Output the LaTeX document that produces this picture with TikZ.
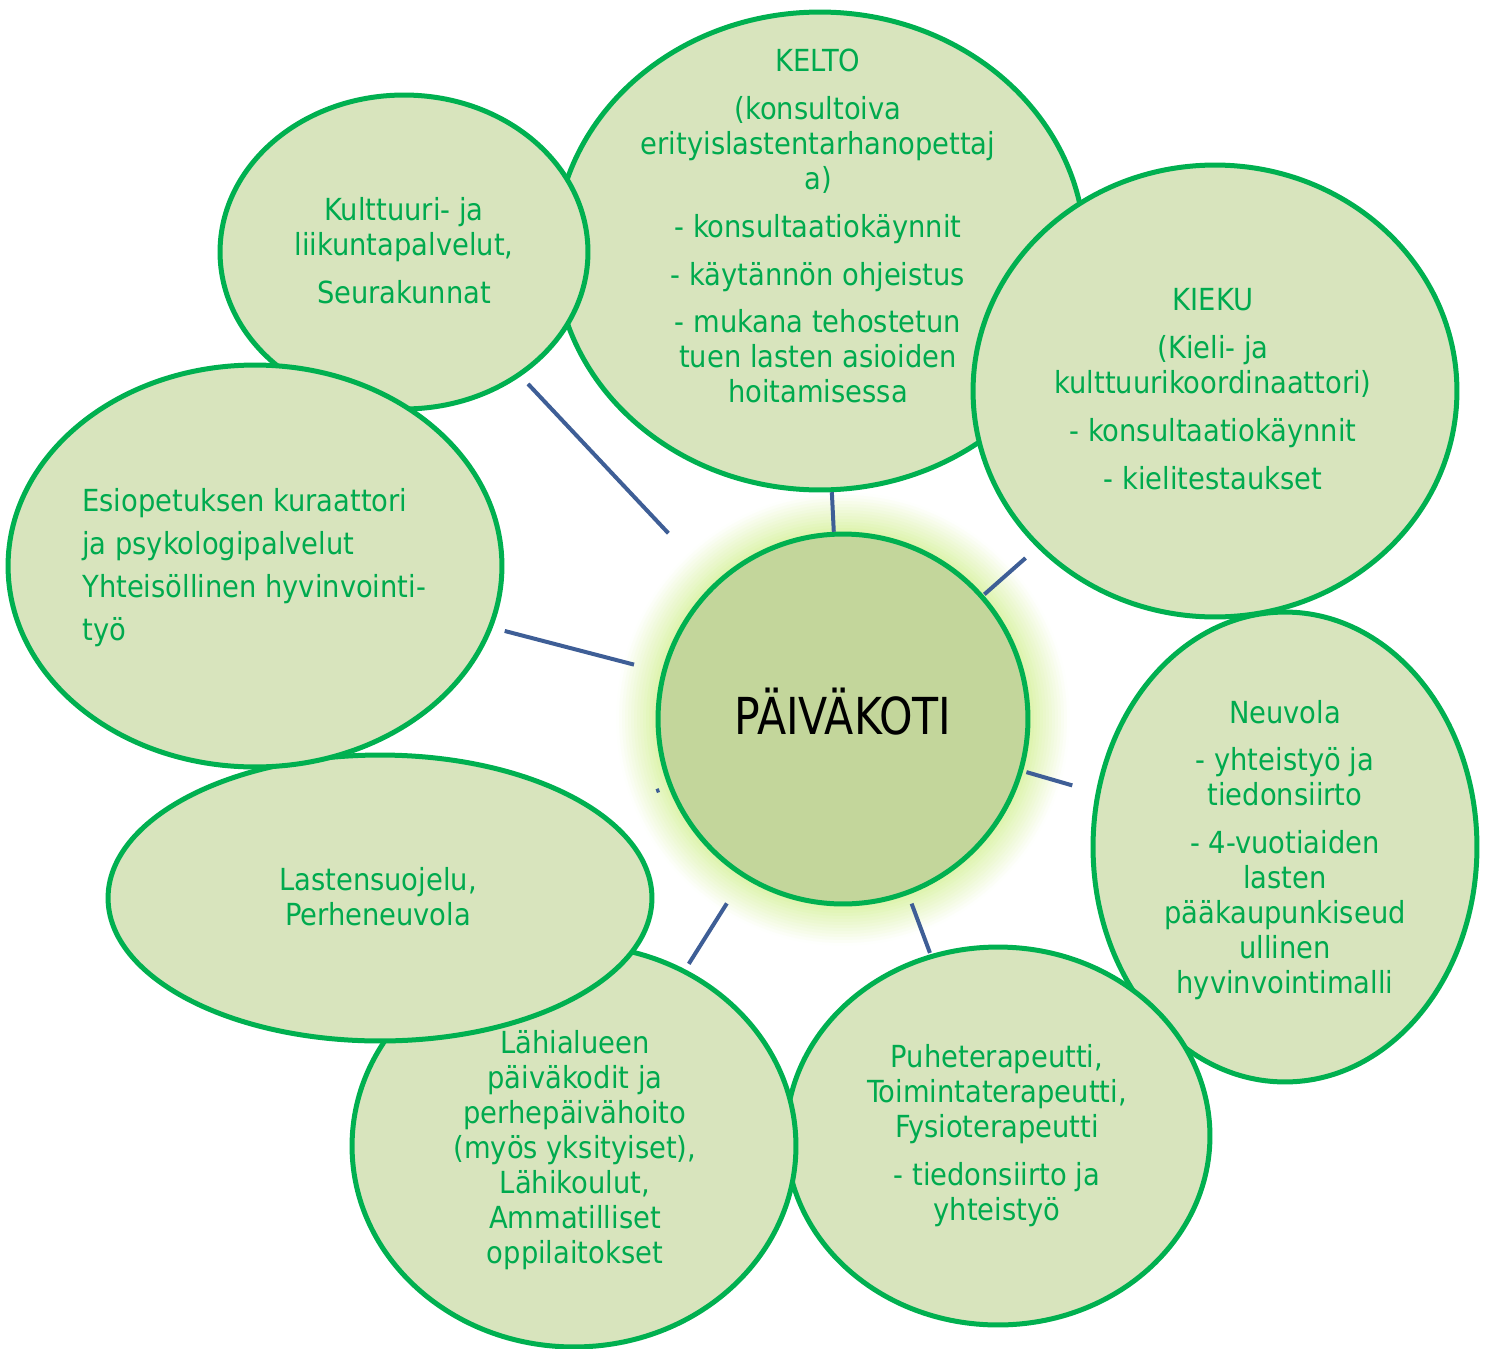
\documentclass[tikz,border=0pt]{standalone}
\usepackage{fontspec}
\setmainfont{DejaVu Sans Condensed}
\usepackage{tikz}
\usetikzlibrary{shapes.geometric, calc}

\definecolor{rimgreen}{RGB}{0,176,80}
\definecolor{textgreen}{RGB}{0,170,78}
\definecolor{bubblefill}{RGB}{216,228,189}
\definecolor{hubfill}{RGB}{195,214,155}
\definecolor{glowgreen}{RGB}{218,242,165}
\definecolor{linkblue}{RGB}{62,94,150}

\begin{document}
\begin{tikzpicture}[x=0.02cm, y=-0.02cm]
% Styles
\tikzstyle{bubble} = [ellipse, draw=rimgreen, line width=0.1cm, fill=bubblefill, inner sep=0pt]
\tikzstyle{hubnode} = [circle, draw=rimgreen, line width=0.1cm, fill=hubfill, minimum size=7.4cm, inner sep=0pt]
\tikzstyle{bubbletext} = [text=textgreen, align=center, inner sep=0pt, font=\fontsize{17.3}{19.9}\selectfont]
\tikzstyle{link} = [draw=linkblue, line width=0.08cm]

\useasboundingbox (0,0) rectangle (1485,1349);

% Glow round the centre
\coordinate (hubc) at (843,719);
\foreach \i in {14,13,...,1}{
  \pgfmathtruncatemacro\pct{100-7*\i}
  \fill[glowgreen!\pct!white] (hubc) circle ({3.7cm+\i*0.06cm});
}

% Nodes
\node (kelto) [bubble, minimum width=10.6cm, minimum height=9.56cm] at (820,251) {};
\node (kieku) [bubble, minimum width=9.68cm, minimum height=9.04cm] at (1215,391) {};
\node (neuvola) [bubble, minimum width=7.68cm, minimum height=9.4cm] at (1285,847) {};
\node (terapia) [bubble, minimum width=8.48cm, minimum height=7.56cm] at (998,1136) {};
\node (lahi) [bubble, minimum width=8.88cm, minimum height=8.04cm] at (574,1146) {};
\node (suojelu) [bubble, minimum width=10.88cm, minimum height=5.72cm] at (380,898) {};
\node (kulttuuri) [bubble, minimum width=7.36cm, minimum height=6.28cm] at (404,252) {};
\node (esiop) [bubble, minimum width=9.88cm, minimum height=8.04cm] at (255,566) {};
\node (hub) [hubnode] at (hubc) {};

% Texts
\node (hub-txt) [font=\fontsize{29}{30}\selectfont, inner sep=0pt] at (843,712) {\scalebox{0.93}[1]{PÄIVÄKOTI}};
\node (kelto-txt) [bubbletext] at (818,226) {KELTO\\[0.26cm]
  (konsultoiva\\ erityislastentarhanopettaj\\ a)\\[0.26cm]
  - konsultaatiokäynnit\\[0.26cm]
  - käytännön ohjeistus\\[0.26cm]
  - mukana tehostetun\\ tuen lasten asioiden\\ hoitamisessa};
\node (kieku-txt) [bubbletext] at (1213,389) {KIEKU\\[0.26cm]
  (Kieli- ja\\ kulttuurikoordinaattori)\\[0.26cm]
  - konsultaatiokäynnit\\[0.26cm]
  - kielitestaukset};
\node (neuvola-txt) [bubbletext] at (1285,850) {Neuvola\\[0.26cm]
  - yhteistyö ja\\ tiedonsiirto\\[0.26cm]
  - 4-vuotiaiden\\ lasten\\ pääkaupunkiseud\\ ullinen\\ hyvinvointimalli};
\node (terapia-txt) [bubbletext] at (997,1136) {Puheterapeutti,\\ Toimintaterapeutti,\\ Fysioterapeutti\\[0.26cm]
  - tiedonsiirto ja\\ yhteistyö};
\node (lahi-txt) [bubbletext] at (575,1150) {Lähialueen\\ päiväkodit ja\\ perhepäivähoito\\
  (myös yksityiset),\\ Lähikoulut,\\ Ammatilliset\\ oppilaitokset};
\node (suojelu-txt) [bubbletext] at (378,897) {Lastensuojelu,\\ Perheneuvola};
\node (kulttuuri-txt) [bubbletext] at (404,251) {Kulttuuri- ja\\ liikuntapalvelut,\\[0.26cm] Seurakunnat};
\node (esiop-txt) [bubbletext, align=left, anchor=west, font=\fontsize{17.3}{24.5}\selectfont] at (82,568) {Esiopetuksen kuraattori\\
  ja psykologipalvelut\\ Yhteisöllinen hyvinvointi-\\ työ};

% Links
\draw [link, shorten <=1.35cm, shorten >=0.21cm] (hub) -- (kulttuuri);
\draw [link] (hub) -- (kelto);
\draw [link, shorten <=0.02cm, shorten >=0.31cm] (hub) -- (kieku);
\draw [link, shorten <=0.57cm, shorten >=0.25cm] (hub) -- (esiop);
\draw [link, shorten <=0.07cm, shorten >=0.49cm] (hub) -- (neuvola);
\draw [link, shorten <=0.19cm, shorten >=0.03cm] (hub) -- (terapia);
\draw [link, shorten <=0.61cm, shorten >=0.13cm] (hub) -- (lahi);
\draw [link, shorten <=0.19cm, shorten >=1.17cm] (hub) -- (suojelu);
\end{tikzpicture}
\end{document}
